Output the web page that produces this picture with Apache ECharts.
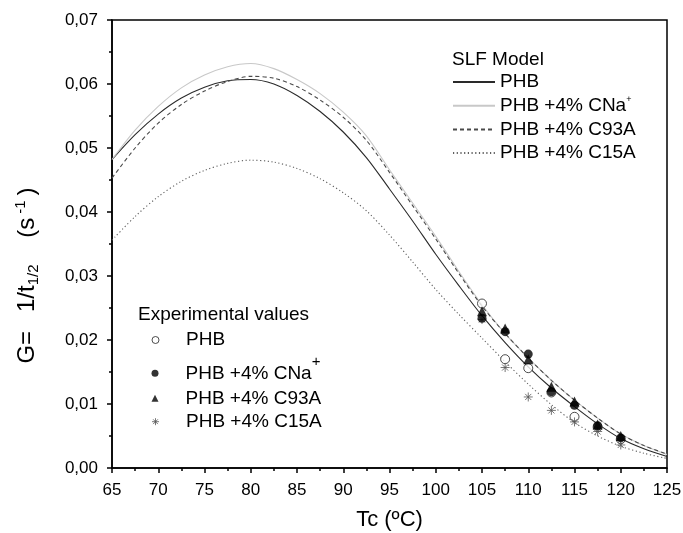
<!DOCTYPE html>
<html><head><meta charset="utf-8">
<script src="https://cdn.jsdelivr.net/npm/echarts@6/dist/echarts.min.js"></script>
<style>html,body{margin:0;padding:0;background:#fff}#c{width:683px;height:533px}</style>
</head><body><div id="c"></div>
<script>
// Model curve temperatures (ºC)
const temps = [65, 67.5, 70, 72.5, 75, 77.5, 80, 82.5, 85, 87.5, 90, 92.5, 95, 97.5, 100, 102.5, 105, 107.5, 110, 112.5, 115, 117.5, 120, 122.5, 125];
// SLF model values G (s^-1)
const modelPHB  = [0.0482, 0.0521, 0.0553, 0.0578, 0.0595, 0.0605, 0.0607, 0.0600, 0.0582, 0.0557, 0.0525, 0.0485, 0.0436, 0.0386, 0.0334, 0.0285, 0.0238, 0.0196, 0.0158, 0.0125, 0.0096, 0.0069, 0.0046, 0.0030, 0.0018];
const modelCNa  = [0.0482, 0.0528, 0.0565, 0.0594, 0.0614, 0.0627, 0.0632, 0.0624, 0.0607, 0.0585, 0.0556, 0.0519, 0.0466, 0.0414, 0.0362, 0.0307, 0.0255, 0.0210, 0.0172, 0.0137, 0.0106, 0.0078, 0.0053, 0.0035, 0.0021];
const modelC93A = [0.0453, 0.0500, 0.0539, 0.0568, 0.0589, 0.0604, 0.0612, 0.0609, 0.0596, 0.0575, 0.0548, 0.0512, 0.0462, 0.0410, 0.0358, 0.0304, 0.0253, 0.0210, 0.0172, 0.0137, 0.0106, 0.0078, 0.0053, 0.0035, 0.0022];
const modelC15A = [0.0356, 0.0393, 0.0424, 0.0448, 0.0465, 0.0476, 0.0481, 0.0478, 0.0468, 0.0452, 0.0430, 0.0402, 0.0364, 0.0322, 0.0279, 0.0240, 0.0203, 0.0166, 0.0131, 0.0099, 0.0071, 0.0050, 0.0034, 0.0023, 0.0015];
// Experimental values
const expTemps = [105, 107.5, 110, 112.5, 115, 117.5, 120];
const expPHB  = [0.0257, 0.0170, 0.0156, 0.0118, 0.0080, 0.0064, 0.0045];
const expCNa  = [0.0234, 0.0213, 0.0178, 0.0119, 0.0098, 0.0066, 0.0047];
const expC93A = [0.0245, 0.0218, 0.0170, 0.0127, 0.0104, 0.0068, 0.0050];
const expC15A = [0.0232, 0.0157, 0.0111, 0.0090, 0.0072, 0.0057, 0.0036];

const FONT = '"Liberation Sans", Arial, sans-serif';
const pair = (xs, ys) => xs.map((x, i) => [x, ys[i]]);

const chart = echarts.init(document.getElementById('c'), null, {renderer: 'canvas'});

function lineSeries(name, data, color, type) {
  return {
    name, type: 'line', data: pair(temps, data), smooth: 0.3, symbol: 'none',
    lineStyle: {color, width: 1.1, type}, itemStyle: {color},
    emphasis: {disabled: true}, silent: true, z: 2
  };
}
function scatterSeries(name, data, symbol, size, itemStyle, z) {
  return {
    name, type: 'scatter', data: pair(expTemps, data), symbol, symbolSize: size,
    itemStyle, emphasis: {disabled: true}, silent: true, z
  };
}
const star = 'path://M5,0 L5,10 M0,5 L10,5 M1.6,1.6 L8.4,8.4 M8.4,1.6 L1.6,8.4';
const openStyle = {color: '#fff', borderColor: '#222', borderWidth: 1};
const starStyle = {color: 'transparent', borderColor: '#555', borderWidth: 1};

const labelMap = {
  'SLF PHB': '{n|PHB}',
  'SLF CNa': '{n|PHB +4% CNa}{s|+}',
  'SLF C93A': '{n|PHB +4% C93A}',
  'SLF C15A': '{n|PHB +4% C15A}',
  'Exp PHB': '{n|PHB}',
  'Exp CNa': '{n2|PHB +4% CNa}{sp|+}{h| }',
  'Exp C93A': '{n|PHB +4% C93A}',
  'Exp C15A': '{n|PHB +4% C15A}'
};
const legendText = (padLeft) => ({
  color: '#000', fontFamily: FONT, fontSize: 19, lineHeight: 22, padding: [0, 0, 0, padLeft],
  rich: {
    n: {fontFamily: FONT, fontSize: 19, lineHeight: 22, color: '#000'},
    n2: {fontFamily: FONT, fontSize: 19, lineHeight: 22, color: '#000', verticalAlign: 'middle'},
    s: {fontFamily: FONT, fontSize: 9, lineHeight: 10, verticalAlign: 'top', color: '#000'},
    sp: {fontFamily: FONT, fontSize: 15, lineHeight: 18, verticalAlign: 'top', color: '#000'},
    h: {fontFamily: FONT, fontSize: 2, lineHeight: 38, verticalAlign: 'middle', color: '#000'}
  }
});
const fmt = name => labelMap[name];
function expLegend(item, top) {
  return {
    data: [item], orient: 'vertical', left: 151.5, top, itemWidth: 7, itemHeight: 7,
    padding: 0, formatter: fmt, textStyle: legendText(22), selectedMode: false
  };
}

const option = {
  animation: false,
  backgroundColor: '#fff',
  grid: {left: 112, right: 16, top: 20, bottom: 65, outerBoundsMode: 'none', show: true, borderColor: '#000', borderWidth: 1.5, backgroundColor: 'transparent'},
  xAxis: {
    type: 'value', min: 65, max: 125, interval: 5,
    name: 'Tc (ºC)', nameLocation: 'middle', nameGap: 41,
    nameTextStyle: {fontFamily: FONT, fontSize: 22, color: '#000'},
    axisLine: {show: true, onZero: false, lineStyle: {color: '#000', width: 1.5}},
    axisTick: {show: true, inside: false, length: 5, lineStyle: {color: '#000', width: 1.5}},
    minorTick: {show: true, splitNumber: 2, length: 3, lineStyle: {color: '#000', width: 1.5}},
    axisLabel: {fontFamily: FONT, fontSize: 17, color: '#000', margin: 14},
    splitLine: {show: false}
  },
  yAxis: {
    type: 'value', min: 0, max: 0.07, interval: 0.01,
    name: '{m|G= }{g1| }{m|1/t}{sub|1/2}{g2| }{m|(s}{sup|-1}{cl|)}', nameLocation: 'middle', nameGap: 71, nameRotate: 90,
    nameTextStyle: {
      fontFamily: FONT, fontSize: 24, color: '#000', padding: [0, 63, 0, 0],
      rich: {
        m: {fontFamily: FONT, fontSize: 24, color: '#000', lineHeight: 28},
        g1: {fontFamily: FONT, fontSize: 8, lineHeight: 28, padding: [0, 10, 0, 0]},
        sub: {fontFamily: FONT, fontSize: 15, color: '#000', lineHeight: 16, verticalAlign: 'bottom'},
        g2: {fontFamily: FONT, fontSize: 24, lineHeight: 28, padding: [0, 20, 0, 0]},
        sup: {fontFamily: FONT, fontSize: 15, color: '#000', lineHeight: 12, verticalAlign: 'top', padding: [0, 0, 0, 4]},
        cl: {fontFamily: FONT, fontSize: 24, color: '#000', lineHeight: 28, padding: [0, 0, 0, 5]}
      }
    },
    axisLine: {show: true, onZero: false, lineStyle: {color: '#000', width: 1.5}},
    axisTick: {show: true, inside: false, length: 5, lineStyle: {color: '#000', width: 1.5}},
    minorTick: {show: true, splitNumber: 2, length: 3, lineStyle: {color: '#000', width: 1.5}},
    axisLabel: {fontFamily: FONT, fontSize: 17, color: '#000', margin: 14,
      formatter: v => v.toFixed(2).replace('.', ',')},
    splitLine: {show: false}
  },
  legend: [
    {
      data: ['SLF PHB', 'SLF CNa', 'SLF C93A', 'SLF C15A'],
      orient: 'vertical', left: 452, top: 71, itemWidth: 42, itemHeight: 10, itemGap: 1.7,
      itemStyle: {opacity: 0},
      padding: 0, formatter: fmt, textStyle: legendText(0), selectedMode: false
    },
    expLegend({name: 'Exp PHB', icon: 'circle', itemStyle: openStyle}, 329),
    expLegend({name: 'Exp CNa', icon: 'circle', itemStyle: {color: '#000', borderWidth: 0}}, 354.3),
    expLegend({name: 'Exp C93A', icon: 'triangle', itemStyle: {color: '#000', borderWidth: 0}}, 387.3),
    expLegend({name: 'Exp C15A', icon: star, itemStyle: starStyle}, 410.7)
  ],
  graphic: [
    {type: 'text', left: 452, top: 50, style: {text: 'SLF Model', fontFamily: FONT, fontSize: 19, fill: '#000'}},
    {type: 'text', left: 138, top: 305, style: {text: 'Experimental values', fontFamily: FONT, fontSize: 19, fill: '#000'}}
  ],
  series: [
    lineSeries('SLF PHB', modelPHB, '#2a2a2a', 'solid'),
    lineSeries('SLF CNa', modelCNa, '#c8c8c8', 'solid'),
    lineSeries('SLF C93A', modelC93A, '#4a4a4a', [4, 3]),
    lineSeries('SLF C15A', modelC15A, '#606060', [1.2, 2.5]),
    scatterSeries('Exp PHB', expPHB, 'circle', 9, openStyle, 3),
    scatterSeries('Exp C15A', expC15A, star, 9, starStyle, 3),
    scatterSeries('Exp CNa', expCNa, 'circle', 9, {color: '#000'}, 3),
    scatterSeries('Exp C93A', expC93A, 'triangle', 10, {color: '#000'}, 3)
  ]
};
chart.setOption(option);
</script>
</body></html>
